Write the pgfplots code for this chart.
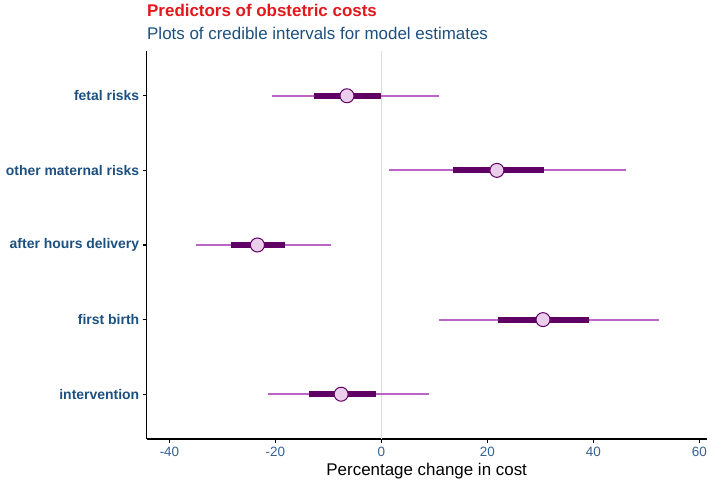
\documentclass[border=0pt]{standalone}
\usepackage{fontspec}
\setmainfont{Liberation Sans}
\usepackage{pgfplots}
\pgfplotsset{compat=1.18}
\usepackage{pgfplotstable}

\definecolor{ciouter}{RGB}{186,100,198}
\definecolor{ciinner}{RGB}{96,0,100}
\definecolor{ptfill}{RGB}{234,206,236}
\definecolor{labelblue}{RGB}{28,80,128}
\definecolor{tickblue}{RGB}{52,98,146}
\definecolor{titlered}{RGB}{226,24,28}
\definecolor{zerogrey}{RGB}{222,222,222}

% posterior median with 50% and 95% credible intervals, percentage change in cost
\pgfplotstableread{
pos est   lo95  hi95  lo50  hi50
5   -6.5  -20.7 10.9  -12.7 -0.1
4   21.8  1.5   46.1  13.5  30.7
3   -23.4 -35.0 -9.6  -28.4 -18.2
2   30.5  10.9  52.4  22.1  39.1
1   -7.6  -21.4 8.9   -13.6 -1.1
}\coefs

\begin{document}
\begin{tikzpicture}[x=1bp,y=1bp]
\useasboundingbox (0,0) rectangle (710,481);
\node[anchor=base west, inner sep=0, text=titlered, font=\bfseries\fontsize{17}{20}\selectfont] at (147,464) {Predictors of obstetric costs};
\node[anchor=base west, inner sep=0, text=labelblue, font=\fontsize{17}{20}\selectfont] at (147,441) {Plots of credible intervals for model estimates};
\begin{axis}[
  at={(146.7bp,42bp)}, anchor=south west,
  scale only axis, width=560bp, height=388bp,
  xmin=-44.3, xmax=61.4, ymin=0.4, ymax=5.6,
  axis x line*=bottom, axis y line*=left,
  axis line style={black, line width=1.1bp},
  tick align=outside, major tick length=4bp,
  tick style={black, line width=1.1bp},
  xtick={-40,-20,0,20,40,60},
  ytick={1,2,3,4,5},
  yticklabels={intervention, first birth, after hours delivery, other maternal risks, fetal risks},
  /pgf/number format/assume math mode=true,
  x tick label style={text=tickblue, font=\fontsize{13.5}{15}\selectfont, yshift=-1bp},
  y tick label style={text=labelblue, font=\bfseries\fontsize{14}{16}\selectfont},
  xlabel={Percentage change in cost},
  xlabel style={font=\fontsize{17}{20}\selectfont, text=black, inner sep=0pt, yshift=-3bp},
  clip=false,
]
  \addplot[zerogrey, line width=1bp, forget plot] coordinates {(0,0.4) (0,5.6)};
  % 95% intervals
  \addplot[only marks, mark=none, forget plot,
    error bars/.cd, x dir=both, x explicit, error mark=none,
    error bar style={ciouter, line width=2bp}]
    table[x=est, y=pos,
      x error plus expr=\thisrow{hi95}-\thisrow{est},
      x error minus expr=\thisrow{est}-\thisrow{lo95}] {\coefs};
  % 50% intervals
  \addplot[only marks, mark=none, forget plot,
    error bars/.cd, x dir=both, x explicit, error mark=none,
    error bar style={ciinner, line width=6bp}]
    table[x=est, y=pos,
      x error plus expr=\thisrow{hi50}-\thisrow{est},
      x error minus expr=\thisrow{est}-\thisrow{lo50}] {\coefs};
  % point estimates
  \addplot[only marks, mark=*, mark size=7bp,
    mark options={fill=ptfill, draw=ciinner, line width=1bp}]
    table[x=est, y=pos] {\coefs};
\end{axis}
\end{tikzpicture}
\end{document}
